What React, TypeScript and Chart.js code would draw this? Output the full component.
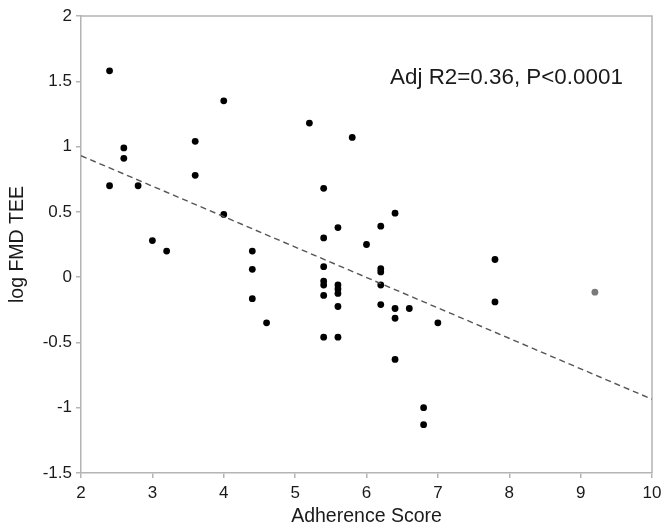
import React, { useEffect, useRef } from "react";
import { Chart, registerables } from "chart.js";

Chart.register(...registerables);

const adherenceX = [
  2.4, 2.4, 2.6, 2.6, 2.8, 3.0, 3.2, 3.6, 3.6, 4.0, 4.0, 4.4, 4.4, 4.4, 4.6,
  5.2, 5.4, 5.4, 5.4, 5.4, 5.4, 5.4, 5.4, 5.6, 5.6, 5.6, 5.6, 5.6, 5.6, 5.8,
  6.0, 6.2, 6.2, 6.2, 6.2, 6.2, 6.4, 6.4, 6.4, 6.4, 6.6, 6.8, 6.8, 7.0, 7.8, 7.8,
];
const logFmdTee = [
  1.58, 0.70, 0.99, 0.91, 0.70, 0.28, 0.20, 1.04, 0.78, 1.35, 0.48, 0.20, 0.06, -0.165, -0.35,
  1.18, 0.68, 0.30, 0.08, -0.03, -0.06, -0.14, -0.46, 0.38, -0.06, -0.09, -0.125, -0.225, -0.46, 1.07,
  0.25, 0.39, 0.065, 0.04, -0.06, -0.21, 0.49, -0.24, -0.315, -0.63, -0.24, -1.0, -1.13, -0.35, 0.135, -0.19,
];
const excludedX = [9.2];
const excludedY = [-0.115];
const fitX = [2, 10];
const fitY = [0.93, -0.935];
const annotationText = "Adj R2=0.36, P<0.0001";
const annotationPos = [6.33, 1.53];
const xTitle = "Adherence Score";
const yTitle = "log FMD TEE";

const FONT = "'Liberation Sans', Arial, Helvetica, sans-serif";
const AXIS_COLOR = "#b4b4b4";
const TEXT_COLOR = "#1a1a1a";

const framePlugin = {
  id: "frameAndNote",
  beforeDatasetsDraw(chart: any) {
    const { ctx, chartArea } = chart;
    ctx.save();
    ctx.strokeStyle = AXIS_COLOR;
    ctx.lineWidth = 1.5;
    ctx.beginPath();
    ctx.moveTo(chartArea.left, chartArea.top);
    ctx.lineTo(chartArea.right, chartArea.top);
    ctx.lineTo(chartArea.right, chartArea.bottom);
    ctx.stroke();
    ctx.restore();
  },
  afterDatasetsDraw(chart: any) {
    const { ctx, scales } = chart;
    const px = scales.x.getPixelForValue(annotationPos[0]);
    const py = scales.y.getPixelForValue(annotationPos[1]);
    ctx.save();
    ctx.font = `22.4px ${FONT}`;
    ctx.fillStyle = TEXT_COLOR;
    ctx.textAlign = "left";
    ctx.textBaseline = "middle";
    ctx.fillText(annotationText, px, py);
    ctx.restore();
  },
};

export default function App() {
  const ref = useRef<HTMLCanvasElement | null>(null);

  useEffect(() => {
    document.body.style.margin = "0";
    const canvas = ref.current;
    if (!canvas) return;
    const chart = new Chart(canvas, {
      type: "scatter",
      data: {
        datasets: [
          {
            type: "line",
            data: fitX.map((x, i) => ({ x, y: fitY[i] })),
            borderColor: "#555555",
            borderWidth: 1.4,
            borderDash: [6, 4],
            pointRadius: 0,
            fill: false,
          } as any,
          {
            data: adherenceX.map((x, i) => ({ x, y: logFmdTee[i] })),
            backgroundColor: "#000000",
            borderColor: "#000000",
            borderWidth: 0,
            pointRadius: 3.4,
          },
          {
            data: excludedX.map((x, i) => ({ x, y: excludedY[i] })),
            backgroundColor: "#7a7a7a",
            borderColor: "#7a7a7a",
            borderWidth: 0,
            pointRadius: 3.4,
          },
        ],
      },
      options: {
        animation: false,
        responsive: false,
        maintainAspectRatio: false,
        layout: { padding: { top: 16, right: 10, left: 0, bottom: 0 } },
        plugins: {
          legend: { display: false },
          tooltip: { enabled: false },
        },
        scales: {
          x: {
            type: "linear",
            min: 2,
            max: 10,
            ticks: {
              stepSize: 1,
              color: TEXT_COLOR,
              font: { family: FONT, size: 17 },
              padding: 5,
              callback: (v: any) => String(v),
            },
            grid: { display: true, drawOnChartArea: false, drawTicks: true, tickLength: 5, color: AXIS_COLOR, lineWidth: 1.5 },
            border: { display: true, color: AXIS_COLOR, width: 1.5 },
            title: {
              display: true,
              text: xTitle,
              color: TEXT_COLOR,
              font: { family: FONT, size: 19.5 },
              padding: { top: 0, bottom: 0 },
            },
            afterFit: (scale: any) => {
              scale.height = 55;
              scale.paddingRight = 0;
              scale.paddingLeft = 0;
            },
          },
          y: {
            type: "linear",
            min: -1.5,
            max: 2,
            ticks: {
              stepSize: 0.5,
              color: TEXT_COLOR,
              font: { family: FONT, size: 17 },
              padding: 4,
              callback: (v: any) => String(v),
            },
            grid: { display: true, drawOnChartArea: false, drawTicks: true, tickLength: 5, color: AXIS_COLOR, lineWidth: 1.5 },
            border: { display: true, color: AXIS_COLOR, width: 1.5 },
            title: {
              display: true,
              text: yTitle,
              color: TEXT_COLOR,
              font: { family: FONT, size: 19.5 },
              padding: { top: 6, bottom: 0 },
            },
            afterFit: (scale: any) => {
              scale.width = 81;
            },
          },
        },
      },
      plugins: [framePlugin],
    });
    return () => chart.destroy();
  }, []);

  return (
    <div style={{ width: 662, height: 528, background: "#fff" }}>
      <canvas ref={ref} width={662} height={528} style={{ display: "block" }} />
    </div>
  );
}
